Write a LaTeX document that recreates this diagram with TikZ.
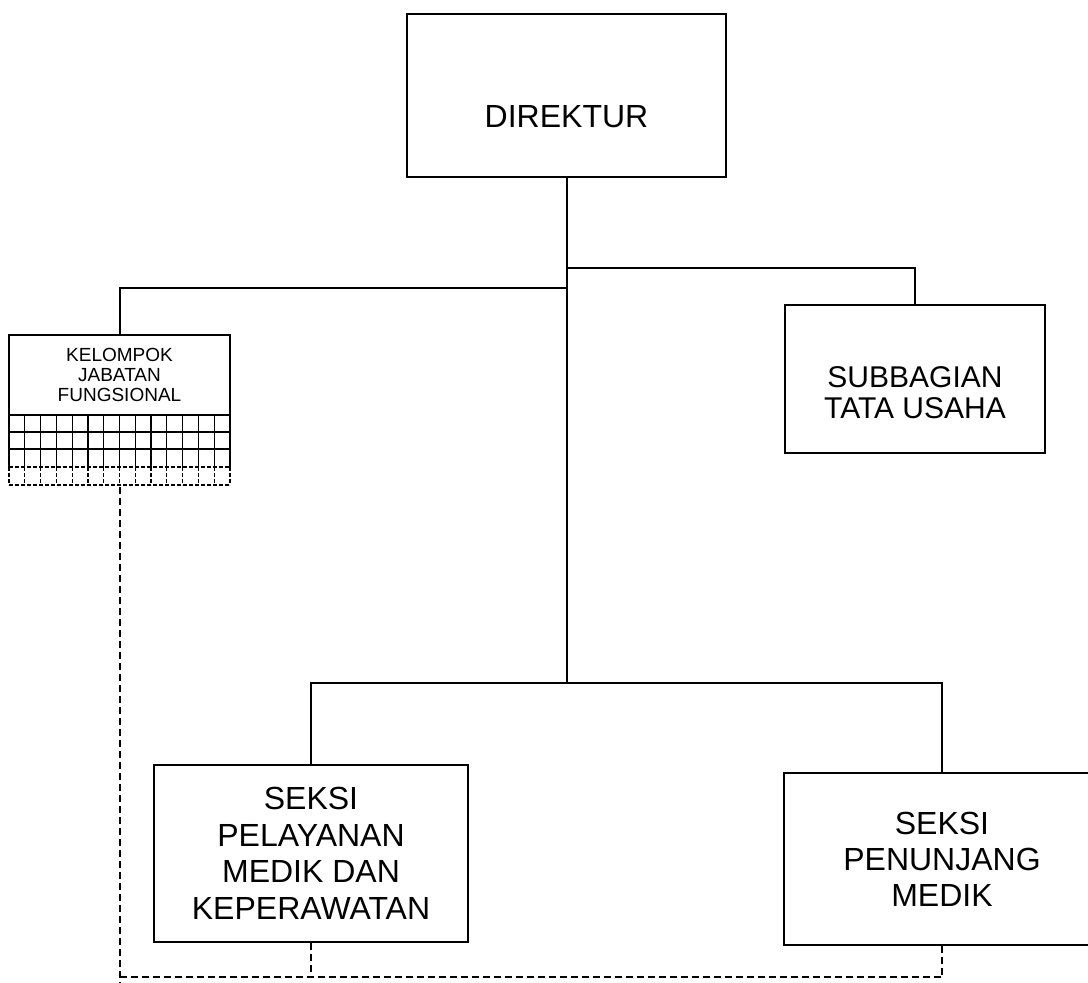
\documentclass[tikz,border=0pt]{standalone}
\usepackage{fontspec}
\setmainfont{Liberation Sans}
\newcommand{\unitfont}{\fontsize{16}{18.25}\selectfont}
\begin{document}
\begin{tikzpicture}
    [x=0.5pt,y=-0.5pt,
     unit/.style={rectangle,draw,line width=1pt,inner sep=0pt,align=center,font=\unitfont},
     link/.style={line width=1pt},
     func/.style={line width=1pt,dash pattern=on 3.5pt off 2pt},
     cell/.style={line width=0.6pt}]

    \useasboundingbox (0,0) rectangle (1088,982);
    \clip (0,0) rectangle (1088,982);

    \node[unit,minimum width=159.5pt,minimum height=81.5pt,
          label={[yshift=-10.75pt,font=\unitfont]center:DIREKTUR}] (direktur) at (566.5,95.5) {};
    \node[unit,minimum width=130pt,minimum height=74pt,
          label={[yshift=-6.75pt,align=center,font=\fontsize{15}{15.5}\selectfont]center:SUBBAGIAN\\TATA USAHA}] (subbag) at (915,379) {};
    \node[unit,font=\fontsize{9.5}{10}\selectfont,minimum width=110.5pt,minimum height=40pt] (kelompok) at (119.5,375) {KELOMPOK\\JABATAN\\FUNGSIONAL};
    \node[unit,minimum width=157pt,minimum height=88.5pt] (pelayanan) at (311,853.5) {SEKSI\\PELAYANAN\\MEDIK DAN\\KEPERAWATAN};
    \node[unit,font=\fontsize{16}{18}\selectfont,minimum width=158pt,minimum height=86pt] (penunjang) at (942,859) {SEKSI\\PENUNJANG\\MEDIK};

    % grid below the functional group
    \foreach \i in {0,...,14}
      \draw[cell] ({9+\i*15.786},415) -- ({9+\i*15.786},467);
    \foreach \i in {0,...,14}
      \draw[cell,dash pattern=on 2pt off 1pt] ({9+\i*15.786},467) -- ({9+\i*15.786},485);
    \foreach \y in {432,449}
      \draw[cell] (9,\y) -- (230,\y);
    \foreach \y in {467,485}
      \draw[cell,dash pattern=on 2pt off 1pt] (9,\y) -- (230,\y);
    \coordinate (gridbot) at (119.5,487);
    \coordinate (jfline) at (119.5,977);

    % lines of command
    \draw[link] (direktur.south) -- ++(0,505) coordinate (bar);
    \draw[link] (direktur.south) ++(0,90) -| (subbag.north);
    \draw[link] (direktur.south) ++(0,110) -| (kelompok.north);
    \draw[link] (pelayanan.north) |- (bar) -| (penunjang.north);

    % lines of coordination
    \draw[func] (gridbot) -- ++(0,500);
    \draw[func] (jfline) -| (penunjang.south);
    \draw[func] (pelayanan.south) -- (pelayanan.south |- jfline);
\end{tikzpicture}
\end{document}
